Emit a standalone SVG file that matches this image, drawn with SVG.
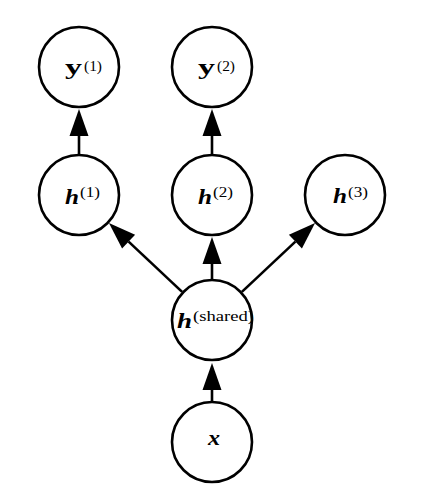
<svg xmlns="http://www.w3.org/2000/svg" width="426" height="498" viewBox="0 0 426 498">
<defs>
<style>
.node circle{fill:#fff;stroke:#000;stroke-width:2.6}
.edge{stroke:#000;stroke-width:2.6;fill:none;marker-end:url(#ah)}
.m{font-family:"Liberation Serif",serif;font-weight:bold;font-size:20px;fill:#000}
.i{font-style:italic}
.s{font-family:"Liberation Serif",serif;font-weight:normal;font-size:14px;fill:#000}
</style>
<marker id="ah" markerUnits="userSpaceOnUse" markerWidth="28" markerHeight="20" refX="0" refY="10" orient="auto" overflow="visible">
<path d="M0,0.5 L27,10 L0,19.5 Z" fill="#000"/>
</marker>
</defs>
<rect width="426" height="498" fill="#fff"/>
<g id="connectors">
<line class="edge" x1="79" y1="154" x2="79" y2="136"/>
<line class="edge" x1="212" y1="154" x2="212" y2="136"/>
<line class="edge" x1="212" y1="279" x2="212" y2="264"/>
<line class="edge" x1="212" y1="401" x2="212" y2="390"/>
<line class="edge" x1="182.1" y1="291.9" x2="128.6" y2="241.6"/>
<line class="edge" x1="241.9" y1="291.9" x2="295.4" y2="241.6"/>
</g>
<g id="y1" class="node"><circle cx="79" cy="67" r="40"/>
<text class="m" x="65" y="74" textLength="17" lengthAdjust="spacingAndGlyphs">y</text>
<text class="s" x="84" y="71" textLength="18" lengthAdjust="spacingAndGlyphs">(1)</text></g>
<g id="y2" class="node"><circle cx="212" cy="67" r="40"/>
<text class="m" x="198" y="74" textLength="17" lengthAdjust="spacingAndGlyphs">y</text>
<text class="s" x="217" y="71" textLength="18" lengthAdjust="spacingAndGlyphs">(2)</text></g>
<g id="h1" class="node"><circle cx="79" cy="195" r="40"/>
<text class="m i" x="65" y="204" textLength="14" lengthAdjust="spacingAndGlyphs">h</text>
<text class="s" x="80" y="197" textLength="20" lengthAdjust="spacingAndGlyphs">(1)</text></g>
<g id="h2" class="node"><circle cx="212" cy="195" r="40"/>
<text class="m i" x="198" y="204" textLength="14" lengthAdjust="spacingAndGlyphs">h</text>
<text class="s" x="213" y="197" textLength="20" lengthAdjust="spacingAndGlyphs">(2)</text></g>
<g id="h3" class="node"><circle cx="345" cy="195" r="40"/>
<text class="m i" x="333" y="203" textLength="14" lengthAdjust="spacingAndGlyphs">h</text>
<text class="s" x="348" y="197" textLength="20" lengthAdjust="spacingAndGlyphs">(3)</text></g>
<g id="hshared" class="node"><circle cx="212" cy="320" r="40"/>
<text class="m i" x="177" y="328" textLength="15" lengthAdjust="spacingAndGlyphs">h</text>
<text class="s" x="193" y="321" textLength="61" lengthAdjust="spacingAndGlyphs">(shared)</text></g>
<g id="x" class="node"><circle cx="212" cy="442" r="40"/>
<text class="m i" x="208" y="445" textLength="12" lengthAdjust="spacingAndGlyphs">x</text></g>
</svg>
